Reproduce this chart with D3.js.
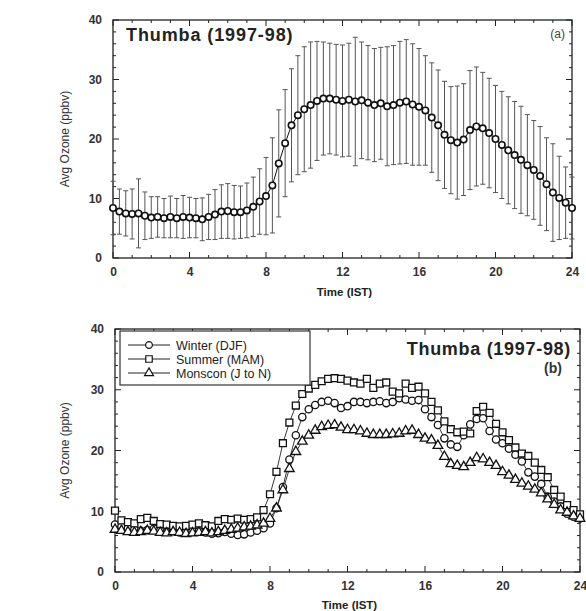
<!DOCTYPE html>
<html><head><meta charset="utf-8">
<script src="https://cdn.jsdelivr.net/npm/d3@7"></script>
<style>
html,body{margin:0;padding:0;background:#fff;}
svg text{font-family:Arial,"Liberation Sans",Helvetica,sans-serif;}
</style></head>
<body><svg id="c" width="586" height="611"></svg>
<script>
// ---- data (20-minute intervals, 0 .. 24 h IST) ----
const hours = d3.range(73).map(i => i / 3);
const xTicks = [0, 4, 8, 12, 16, 20, 24];
const yTicks = [0, 10, 20, 30, 40];

const annualMean = [8.4,7.8,7.5,7.4,7.5,7.1,6.8,6.9,6.7,6.9,6.7,6.9,6.8,6.7,6.5,6.9,7.3,7.8,7.9,7.7,7.7,8.0,8.6,9.5,
 10.4,12.2,15.9,19.3,22.3,24.0,25.0,25.7,26.4,26.8,26.8,26.6,26.4,26.6,26.3,26.5,26.1,25.7,26.0,25.5,25.7,26.1,26.3,25.8,
 25.4,24.8,23.6,22.3,20.7,19.8,19.4,19.9,21.5,22.1,21.8,21.0,20.0,19.0,18.1,17.3,16.5,15.6,14.8,13.8,12.4,11.0,10.1,9.3,8.4];
const annualSD = [4.5,3.8,3.8,4.2,5.8,4.0,3.5,3.4,3.3,3.5,3.3,3.6,3.4,3.3,3.6,3.8,4.2,4.5,4.6,4.5,4.4,4.6,5.0,5.5,
 6.5,8.0,9.0,9.0,9.5,10.0,10.5,10.6,10.0,9.5,9.3,9.3,9.4,9.5,10.8,9.8,9.6,9.5,9.4,10.0,10.0,10.3,10.4,10.2,
 9.8,9.2,9.2,9.3,9.0,9.0,9.5,9.4,10.0,10.0,9.4,9.2,9.0,9.0,9.0,9.0,9.0,8.5,8.3,8.3,7.8,8.2,7.0,6.0,5.2];

const winterDJF = [7.8,7.5,7.2,7.0,6.8,6.9,7.1,6.8,6.6,6.7,6.5,6.6,6.8,6.7,6.5,6.3,6.4,6.6,6.3,6.1,6.2,6.5,6.8,7.2,
 8.0,10.5,14.0,18.5,22.5,25.5,26.8,27.5,28.0,28.2,27.8,27.0,27.3,28.0,28.0,27.8,28.0,28.1,27.8,28.0,28.6,28.4,28.2,28.3,
 26.8,25.5,24.2,22.0,21.0,20.6,22.5,24.3,25.2,25.3,23.2,21.8,21.2,20.3,19.3,18.2,16.4,15.7,14.5,12.4,11.6,10.8,9.6,9.1,8.8];
const summerMAM = [10.1,8.5,8.2,8.0,8.7,8.9,8.4,7.9,7.8,7.6,7.5,7.6,7.8,8.0,7.7,7.5,8.4,8.7,8.6,8.8,8.6,8.7,9.0,10.2,
 12.8,16.5,21.2,24.6,27.4,29.3,30.2,30.8,31.4,31.8,31.9,31.8,31.5,31.2,31.0,31.8,30.3,31.0,31.2,29.7,29.4,31.0,30.3,30.5,
 29.4,28.0,26.6,24.8,23.5,23.0,23.1,22.8,26.5,27.2,26.2,24.4,23.0,21.7,20.5,19.5,19.1,18.0,16.8,15.6,13.5,12.4,11.0,10.2,9.5];
const monsoonJN = [7.0,6.8,6.6,6.5,6.6,6.8,6.7,6.5,6.4,6.6,6.5,6.3,6.4,6.5,6.6,6.4,6.6,6.8,7.0,7.2,7.4,7.5,7.7,8.0,
 8.8,10.5,13.5,17.0,19.8,21.5,22.5,23.3,23.9,24.1,24.2,23.8,23.4,23.4,23.2,22.8,22.6,22.6,22.6,22.7,22.8,23.2,23.3,22.6,
 22.0,21.7,20.8,19.0,17.8,17.5,17.3,18.0,18.8,18.6,18.0,17.5,16.5,15.9,15.2,14.6,14.1,13.6,13.0,12.0,11.1,10.2,9.8,9.2,8.8];

const seriesNames = ["Winter (DJF)", "Summer (MAM)", "Monscon (J to N)"];
const titleText = "Thumba (1997-98)";
const yLabel = "Avg Ozone (ppbv)";
const xLabel = "Time (IST)";

// ---- drawing ----
const svg = d3.select("#c");
const INK = "#222";

function panel(cfg) {
  const x = d3.scaleLinear().domain([0, 24]).range([cfg.x0, cfg.x1]);
  const y = d3.scaleLinear().domain([0, 40]).range([cfg.y0, cfg.y1]);
  const g = svg.append("g");
  g.append("rect").attr("x", cfg.x0).attr("y", cfg.y1)
    .attr("width", cfg.x1 - cfg.x0).attr("height", cfg.y0 - cfg.y1)
    .attr("fill", "none").attr("stroke", INK).attr("stroke-width", 1.3);
  const xMinor = d3.range(0, 25, 1), yMinor = d3.range(0, 41, 2);
  xMinor.forEach(v => {
    const L = v % 4 === 0 ? 6 : 3;
    g.append("line").attr("x1", x(v)).attr("x2", x(v)).attr("y1", cfg.y0).attr("y2", cfg.y0 - L).attr("stroke", INK);
    g.append("line").attr("x1", x(v)).attr("x2", x(v)).attr("y1", cfg.y1).attr("y2", cfg.y1 + L).attr("stroke", INK);
  });
  yMinor.forEach(v => {
    const L = v % 10 === 0 ? 6 : 3;
    g.append("line").attr("y1", y(v)).attr("y2", y(v)).attr("x1", cfg.x0).attr("x2", cfg.x0 + L).attr("stroke", INK);
    g.append("line").attr("y1", y(v)).attr("y2", y(v)).attr("x1", cfg.x1).attr("x2", cfg.x1 - L).attr("stroke", INK);
  });
  const ax = g.append("g").attr("transform", `translate(0,${cfg.y0})`)
    .call(d3.axisBottom(x).tickValues(xTicks).tickSize(0).tickPadding(9));
  const ay = g.append("g").attr("transform", `translate(${cfg.x0},0)`)
    .call(d3.axisLeft(y).tickValues(yTicks).tickSize(0).tickPadding(11));
  [ax, ay].forEach(a => {
    a.select(".domain").remove();
    a.selectAll("text").attr("font-size", 12).attr("fill", "#333").attr("font-weight", "bold")
      .attr("font-family", "Arial, 'Liberation Sans', sans-serif");
  });
  g.append("text").attr("x", (cfg.x0 + cfg.x1) / 2 + 2).attr("y", cfg.xLabY).attr("text-anchor", "middle")
    .attr("font-size", 11.5).attr("font-weight", "bold").attr("fill", "#222").text(xLabel);
  g.append("text").attr("transform", `translate(69,${(cfg.y0 + cfg.y1) / 2}) rotate(-90)`)
    .attr("text-anchor", "middle").attr("font-size", 12).attr("fill", "#333").text(yLabel);
  return {x, y, g};
}

// Panel (a)
const A = panel({x0: 113, x1: 572, y0: 258, y1: 20, xLabY: 296});
const aData = hours.map((h, i) => ({h, m: annualMean[i], s: annualSD[i]}));
const eb = A.g.append("g").attr("stroke", "#555").attr("stroke-width", 1);
aData.forEach(d => {
  const xx = A.x(d.h);
  eb.append("line").attr("x1", xx).attr("x2", xx).attr("y1", A.y(d.m - d.s)).attr("y2", A.y(d.m + d.s));
  eb.append("line").attr("x1", xx - 2.5).attr("x2", xx + 2.5).attr("y1", A.y(d.m + d.s)).attr("y2", A.y(d.m + d.s));
  eb.append("line").attr("x1", xx - 2.5).attr("x2", xx + 2.5).attr("y1", A.y(d.m - d.s)).attr("y2", A.y(d.m - d.s));
});
A.g.append("path").datum(aData).attr("fill", "none").attr("stroke", "#111").attr("stroke-width", 1)
  .attr("d", d3.line().x(d => A.x(d.h)).y(d => A.y(d.m)));
A.g.append("g").selectAll("circle").data(aData).join("circle")
  .attr("cx", d => A.x(d.h)).attr("cy", d => A.y(d.m)).attr("r", 3.2)
  .attr("fill", "#fff").attr("stroke", "#111").attr("stroke-width", 1.6);
A.g.append("text").attr("x", 126).attr("y", 41).attr("font-size", 18).attr("font-weight", "bold")
  .attr("letter-spacing", 0.9).attr("fill", "#222").text(titleText);
A.g.append("text").attr("x", 565).attr("y", 38).attr("text-anchor", "end").attr("font-size", 12)
  .attr("fill", "#444").text("(a)");

// Panel (b)
const B = panel({x0: 115, x1: 580, y0: 572, y1: 329, xLabY: 609});
const sym = [d3.symbolCircle, d3.symbolSquare, d3.symbolTriangle];
const symSize = [42, 48, 40];
const series = [winterDJF, summerMAM, monsoonJN];
series.forEach((vals, k) => {
  const pts = hours.map((h, i) => ({h, v: vals[i]}));
  B.g.append("path").datum(pts).attr("fill", "none").attr("stroke", "#222").attr("stroke-width", 0.9)
    .attr("d", d3.line().x(d => B.x(d.h)).y(d => B.y(d.v)));
});
series.forEach((vals, k) => {
  const pts = hours.map((h, i) => ({h, v: vals[i]}));
  B.g.append("g").selectAll("path").data(pts).join("path")
    .attr("transform", d => `translate(${B.x(d.h)},${B.y(d.v)})`)
    .attr("d", d3.symbol().type(sym[k]).size(symSize[k]))
    .attr("fill", "#fff").attr("stroke", "#111").attr("stroke-width", 1.3);
});
const lg = B.g.append("g");
lg.append("rect").attr("x", 120).attr("y", 331).attr("width", 190).attr("height", 54)
  .attr("fill", "#fff").attr("stroke", "#333").attr("stroke-width", 1.2);
seriesNames.forEach((n, k) => {
  const yy = 345 + k * 14;
  lg.append("line").attr("x1", 128).attr("x2", 170).attr("y1", yy).attr("y2", yy).attr("stroke", "#222");
  lg.append("path").attr("transform", `translate(149,${yy})`)
    .attr("d", d3.symbol().type(sym[k]).size(symSize[k] - 6))
    .attr("fill", "#fff").attr("stroke", "#111").attr("stroke-width", 1.2);
  lg.append("text").attr("x", 176).attr("y", yy + 4.5).attr("font-size", 12.5).attr("fill", "#222").text(n);
});
B.g.append("text").attr("x", 571).attr("y", 355).attr("text-anchor", "end").attr("font-size", 18)
  .attr("font-weight", "bold").attr("letter-spacing", 0.7).attr("fill", "#222").text(titleText);
B.g.append("text").attr("x", 562).attr("y", 373).attr("text-anchor", "end").attr("font-size", 14)
  .attr("font-weight", "bold").attr("fill", "#333").text("(b)");
</script></body></html>
